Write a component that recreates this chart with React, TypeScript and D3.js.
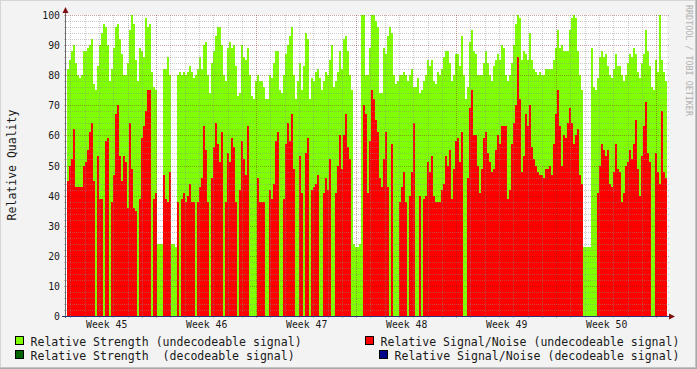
import React from "react";
import * as d3 from "d3";

// Relative Strength (undecodeable signal), one value per 3.36 h
const STRENGTH: (number | null)[] = [
  82, 85, 88, 90, 84, 80, 79, 80, 88, 88,
  89, 90, 92, 77, 75, 83, 90, 94, 97, 96,
  90, 78, 82, 89, 96, 97, 92, 87, 80, 80,
  84, 95, 100, 97, 85, 78, 89, 88, 86, 99,
  96, 97, 81, 76, 75, 24, 24, 24, 82, 82,
  86, 80, 24, 24, 23, 80, 81, 80, 81, 80,
  81, 83, 81, 79, 80, 82, 86, 82, 90, 91,
  80, 74, 84, 88, 93, 96, 96, 90, 80, 78,
  89, 91, 89, 90, 83, 73, 74, 90, 86, 85,
  89, 80, 73, 72, 78, 80, 78, 78, 76, 72,
  72, 80, 79, 84, 88, 88, 75, 74, 80, 87,
  90, 93, 96, 80, 72, 78, 84, 75, 83, 94,
  92, 72, 79, 78, 81, 82, 79, 75, 78, 81,
  80, 85, 90, 76, 78, 81, 88, 82, 92, 93,
  88, 80, 75, 24, 23, 23, 24, 100, 100, 80,
  80, 89, 100, 100, 98, 96, 74, 74, 89, 87,
  93, 96, 94, 80, 77, 78, 80, 80, 81, 80,
  78, 80, 82, 76, 76, 79, 74, 75, 78, 80,
  85, 83, 85, 78, 77, 81, 80, 82, 86, 88,
  88, 84, 78, 80, 87, 87, 83, 93, 80, 72,
  76, 91, 95, 88, 87, 80, 80, 80, 84, 88,
  84, 80, 78, 83, 85, 87, 85, 90, 89, 80,
  78, 80, 84, 90, 97, 100, 99, 85, 88, 87,
  85, 94, 85, 82, 81, 80, 81, 80, 80, 82,
  82, 82, 82, 85, 89, 95, 89, 90, 88, 88,
  88, 95, 99, 100, 99, 88, 80, 75, 23, 23,
  23, 23, 89, 76, 75, 79, 86, 88, 86, 87,
  83, 80, 79, 82, 87, 83, 83, 80, 78, 80,
  84, 87, 86, 89, 87, 81, 79, 84, 87, 95,
  88, 83, 76, 75, 85, 81, 100, 85, 81, 78,
];

// Relative Signal/Noise (undecodeable signal)
const SNR: (number | null)[] = [
  45, 50, 52, 62, 43, 43, 43, 43, 50, 51,
  55, 61, 64, 45, null, 53, 39, 39, null, 58,
  59, null, 38, 47, 67, 70, 53, 45, 53, 51,
  36, 64, 49, 36, 35, null, 39, 59, 63, 68,
  75, 75, null, 39, 41, null, null, null, 47, 39,
  38, 48, null, null, null, 38, null, 39, 41, 38,
  40, 44, 38, 38, null, 38, 43, 46, 63, 55,
  38, null, 46, 56, 64, 57, 51, 61, null, 38,
  54, 51, 59, 56, 38, null, 42, 58, 52, 47,
  63, null, null, null, null, 46, 38, 38, 38, null,
  null, 42, 39, 44, 58, 61, null, null, 39, 57,
  64, 58, 67, 49, null, null, 53, 41, null, 54,
  59, null, 42, 43, 44, 47, null, null, 41, 46,
  42, 52, null, null, 41, 50, 60, 49, 60, 67,
  56, 52, null, null, null, null, null, null, 70, 67,
  41, 58, 75, 72, 65, 61, 46, 43, 52, 61,
  43, null, 57, null, null, null, 38, 43, 48, 38,
  null, 40, 48, 64, null, null, 40, null, 39, 40,
  51, 48, 53, 40, 38, 38, 38, 42, 44, 53,
  50, 55, 39, 49, 58, 59, 51, 61, null, null,
  46, 69, 75, 60, 60, 50, 41, 49, 59, 61,
  54, 51, 48, 49, 55, 60, 57, 63, 63, 63,
  39, 42, 57, 64, 70, 86, 72, 48, 53, 67,
  63, 70, 56, 52, 50, 48, 47, 47, 46, 49,
  49, 50, 47, 57, 67, 75, 63, 50, 60, 59,
  64, 69, 64, 57, 60, 62, 47, 44, null, null,
  null, null, null, null, null, 41, 50, 57, 55, 53,
  55, 44, 43, 48, 57, 49, 48, 38, 41, 50,
  51, 55, 52, 57, 65, 49, 40, 53, 63, 71,
  54, 51, null, null, 54, 48, 44, 68, 48, 46,
];

const Y_TICKS = [0, 10, 20, 30, 40, 50, 60, 70, 80, 90, 100];
const WEEK_LABELS = ["Week 45", "Week 46", "Week 47", "Week 48", "Week 49", "Week 50"];

const LEGEND_LABELS = [
  "Relative Strength (undecodeable signal)",
  "Relative Signal/Noise (undecodeable signal)",
  "Relative Strength  (decodeable signal)",
  "Relative Signal/Noise (decodeable signal)",
];
const LEGEND_COLORS = ["#7fff00", "#ff0000", "#006400", "#00008b"];

const W = 697;
const H = 369;
const PLOT_L = 67;
const PLOT_R = 667;
const PLOT_T = 15;
const PLOT_B = 316;
const HOURS_PER_SAMPLE = 3.36;
const T0 = 17.3; // hours after start of week 45 at left edge of the plot

const FONT = "'DejaVu Sans Mono', monospace";
const GREEN = "#7fff00";
const RED = "#ff0000";

export default function App() {
  const n = STRENGTH.length;
  const tEnd = T0 + n * HOURS_PER_SAMPLE;
  const x = d3.scaleLinear().domain([T0, tEnd]).range([PLOT_L, PLOT_R]);
  const y = d3.scaleLinear().domain([0, 100]).range([PLOT_B, PLOT_T]);

  const minorH = d3.range(2, 100, 2).filter((v) => v % 10 !== 0);
  const majorH = Y_TICKS.filter((v) => v !== 0);
  const days = d3.range(Math.ceil(T0 / 24) * 24, tEnd, 24);
  const minorV = days.filter((t) => t % 168 !== 0);
  const majorV = days.filter((t) => t % 168 === 0);
  const weekCenters = WEEK_LABELS.map((_, i) => i * 168 + 84);

  const px = (v: number) => Math.floor(v) + 0.5;
  const py = (v: number) => Math.round(y(v)) + 0.5;

  const barW = x(T0 + HOURS_PER_SAMPLE) - x(T0);

  return (
    <div>
      <style>{`body{margin:0;}`}</style>
      <svg width={W} height={H} style={{ display: "block" }}>
        {/* background & frame */}
        <rect x={0} y={0} width={W} height={H} fill="#f3f3f3" />
        <line x1={0} y1={0.5} x2={W} y2={0.5} stroke="#d6d6d6" />
        <line x1={0.5} y1={0} x2={0.5} y2={H} stroke="#d6d6d6" />
        <line x1={0} y1={H - 1.5} x2={W} y2={H - 1.5} stroke="#c4c4c4" />
        <line x1={W - 1.5} y1={0} x2={W - 1.5} y2={H} stroke="#c4c4c4" />
        <line x1={0} y1={H - 0.5} x2={W} y2={H - 0.5} stroke="#a8a8a8" />
        <line x1={W - 0.5} y1={0} x2={W - 0.5} y2={H} stroke="#a8a8a8" />

        {/* canvas */}
        <rect x={PLOT_L - 1} y={PLOT_T} width={PLOT_R - PLOT_L + 1} height={PLOT_B - PLOT_T} fill="#ffffff" />

        {/* data */}
        <g shapeRendering="crispEdges">
          {STRENGTH.map((v, i) =>
            v == null ? null : (
              <rect
                key={"g" + i}
                x={x(T0 + i * HOURS_PER_SAMPLE)}
                y={Math.round(y(v))}
                width={barW}
                height={PLOT_B - Math.round(y(v))}
                fill={GREEN}
              />
            )
          )}
          {SNR.map((v, i) =>
            v == null ? null : (
              <rect
                key={"r" + i}
                x={x(T0 + i * HOURS_PER_SAMPLE)}
                y={Math.round(y(v))}
                width={barW}
                height={PLOT_B - Math.round(y(v))}
                fill={RED}
              />
            )
          )}
        </g>

        {/* grid */}
        <g shapeRendering="crispEdges" strokeDasharray="1,1">
          {minorH.map((v) => (
            <line key={"mh" + v} x1={PLOT_L - 3} x2={PLOT_R + 3} y1={py(v)} y2={py(v)} stroke="rgba(140,140,140,0.45)" />
          ))}
          {minorV.map((t) => (
            <line key={"mv" + t} x1={px(x(t))} x2={px(x(t))} y1={PLOT_T} y2={PLOT_B + 3} stroke="rgba(140,140,140,0.45)" />
          ))}
          {majorH.map((v) => (
            <line key={"Mh" + v} x1={PLOT_L - 3} x2={PLOT_R + 3} y1={py(v)} y2={py(v)} stroke="rgba(130,30,30,0.4)" />
          ))}
          {majorV.map((t) => (
            <line key={"Mv" + t} x1={px(x(t))} x2={px(x(t))} y1={PLOT_T} y2={PLOT_B + 3} stroke="rgba(130,30,30,0.4)" />
          ))}
        </g>

        {/* axes */}
        <g shapeRendering="crispEdges">
          <line x1={PLOT_L - 1.5} x2={PLOT_L - 1.5} y1={PLOT_B + 2} y2={9} stroke="#6a6a6a" />
          <line x1={PLOT_L - 5} x2={PLOT_R + 3} y1={PLOT_B + 0.5} y2={PLOT_B + 0.5} stroke="#27307a" />
        </g>
        <path d={`M${PLOT_L - 4.5},${13} L${PLOT_L - 1.5},${7} L${PLOT_L + 1.5},${13} Z`} fill="#7f1010" />
        <path d={`M${PLOT_R + 2},${PLOT_B - 2.5} L${PLOT_R + 8},${PLOT_B + 0.5} L${PLOT_R + 2},${PLOT_B + 3.5} Z`} fill="#7f1010" />

        {/* y tick labels */}
        <g fontFamily={FONT} fontSize={9.8} fill="#1a1a1a">
          {Y_TICKS.map((v) => (
            <text key={"yt" + v} x={60} y={Math.round(y(v)) + 3.5} textAnchor="end">
              {v}
            </text>
          ))}
          {WEEK_LABELS.map((lab, i) => (
            <text key={lab} x={x(weekCenters[i])} y={327.5} textAnchor="middle">
              {lab}
            </text>
          ))}
        </g>

        {/* y title */}
        <text
          transform={`translate(15.5,${165}) rotate(-90)`}
          textAnchor="middle"
          fontFamily={FONT}
          fontSize={11.5}
          fill="#1a1a1a"
        >
          Relative Quality
        </text>

        {/* watermark */}
        <text
          transform="translate(686,5) rotate(90)"
          fontFamily={FONT}
          fontSize={8.4}
          fill="#b0b0b0"
        >
          RRDTOOL / TOBI OETIKER
        </text>

        {/* legend */}
        <g fontFamily={FONT} fontSize={11.56} fill="#1a1a1a" style={{ whiteSpace: "pre" }}>
          {[
            { bx: 15.5, by: 336.5, tx: 30.5, ty: 345.5 },
            { bx: 365.5, by: 336.5, tx: 380.5, ty: 345.5 },
            { bx: 15.5, by: 350.5, tx: 30.5, ty: 359.5 },
            { bx: 379.5, by: 350.5, tx: 394.5, ty: 359.5 },
          ].map((p, i) => (
            <g key={"lg" + i}>
              <rect x={p.bx} y={p.by} width={8} height={8} fill={LEGEND_COLORS[i]} stroke="#000" strokeWidth={1} shapeRendering="crispEdges" />
              <text x={p.tx} y={p.ty} xmlSpace="preserve">
                {LEGEND_LABELS[i]}
              </text>
            </g>
          ))}
        </g>
      </svg>
    </div>
  );
}
